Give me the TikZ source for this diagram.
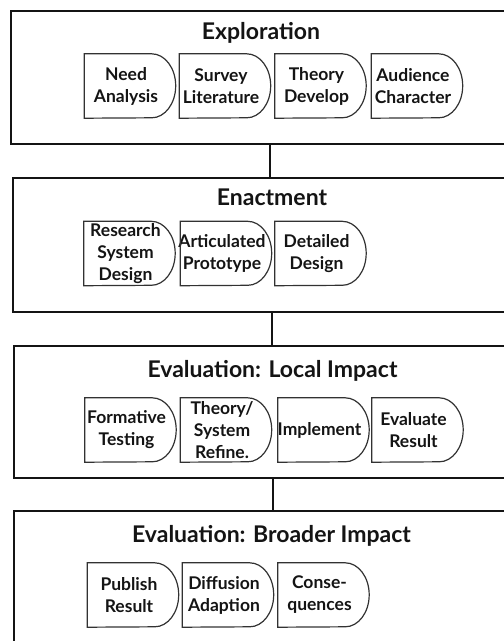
\documentclass[tikz,border=0pt]{standalone}
\usepackage{fontspec}
\setmainfont{Lato}
\usepackage{xcolor}
\usetikzlibrary{positioning, arrows.meta, calc}
\definecolor{printInk}{RGB}{20, 20, 20}
\definecolor{printGray}{RGB}{50, 50, 50}

\tikzset{
    stage/.style={draw=printInk, line width=2.6pt, minimum width=518pt, inner sep=0pt},
    stageTitle/.style={font=\fontsize{23}{27}\selectfont\bfseries, text=printInk, inner sep=0pt, anchor=base},
    task/.style={minimum width=91pt, minimum height=64pt, inner sep=0pt, align=center,
        font=\fontsize{17.5}{22}\selectfont\bfseries, text=printInk},
    taskLine/.style={draw=printGray, line width=1.2pt}
}

\begin{document}
\begin{tikzpicture}[x=1pt, y=1pt]
        \clip (0, 0) rectangle (504, -641);
        \useasboundingbox (0, 0) rectangle (504, -641);

        % Stages
        \node[stage, minimum height=133pt] (expl) at (270, -77.5) {};
        \node[stage, minimum height=134pt] (enact) at (272, -245) {};
        \node[stage, minimum height=132pt] (local) at (273, -412) {};
        \node[stage, minimum height=160pt] (broad) at (273, -591) {};

        % Links
        \draw[line width=2.4pt, printInk] (expl.south) -- (expl.south |- enact.north);
        \draw[line width=2.4pt, printInk] (enact.south) -- (enact.south |- local.north);
        \draw[line width=2.4pt, printInk] (local.south) -- (local.south |- broad.north);

        % Titles
        \node[stageTitle] (explT) at (261, -39.5) {Exploration};
        \node[stageTitle] (enactT) at (272, -205) {Enactment};
        \node[stageTitle] (localT) at (272.5, -377.5) {Evaluation: Local Impact};
        \node[stageTitle] (broadT) at (271.5, -542.5) {Evaluation: Broader Impact};

        % Tasks (text sits a little left of the box centre)
        \node[task] (need) at (126, -86) {Need\\Analysis};
        \node[task] (survey) at (221, -86) {Survey\\Literature};
        \node[task] (theory) at (316.5, -86) {Theory\\Develop};
        \node[task] (audience) at (413, -86) {Audience\\Character};

        \node[task] (research) at (125.5, -253.5) {Research\\System\\Design};
        \node[task] (proto) at (222, -253.5) {Articulated\\Prototype};
        \node[task] (detail) at (316.5, -253.5) {Detailed\\Design};

        \node[task] (formative) at (126.5, -430) {Formative\\Testing};
        \node[task] (refine) at (222, -430) {Theory/\\System\\Refine.};
        \node[task] (implement) at (319.5, -430) {Implement};
        \node[task] (evaluate) at (413.5, -430) {Evaluate\\Result};

        \node[task] (publish) at (129, -595) {Publish\\Result};
        \node[task] (diffusion) at (224, -595) {Diffusion\\Adaption};
        \node[task] (conseq) at (319.5, -595) {Conse-\\quences};

        % Task outlines
        \foreach \n in {need, survey, theory, audience, research, proto, detail,
                formative, refine, implement, evaluate, publish, diffusion, conseq}
            \draw[taskLine] ([xshift=4pt]\n.north west) -- ([xshift=-20pt]\n.north east)
                arc[start angle=90, end angle=-90, x radius=24pt, y radius=32pt]
                -- ([xshift=4pt]\n.south west) -- cycle;
\end{tikzpicture}
\end{document}
